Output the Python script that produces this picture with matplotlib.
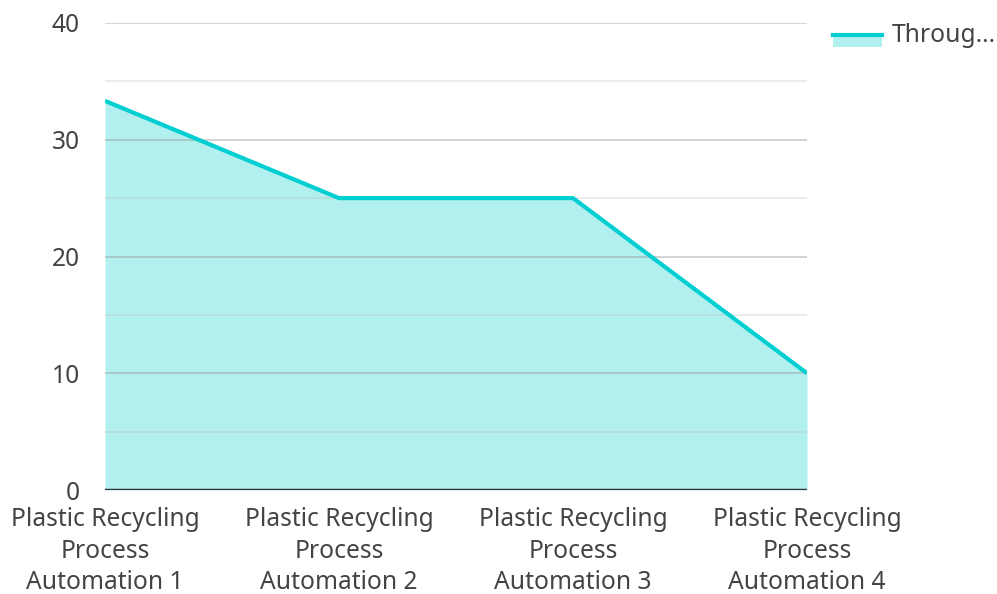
import matplotlib
matplotlib.use("Agg")
import matplotlib.pyplot as plt
from matplotlib.patches import Rectangle
from matplotlib.lines import Line2D

categories = ["Plastic Recycling\nProcess\nAutomation 1",
              "Plastic Recycling\nProcess\nAutomation 2",
              "Plastic Recycling\nProcess\nAutomation 3",
              "Plastic Recycling\nProcess\nAutomation 4"]
values = [33.33, 25, 25, 10]
series_name = "Throug..."
y_ticks = [0, 10, 20, 30, 40]
y_minor = [5, 15, 25, 35]

plt.rcParams['font.family'] = ['Noto Sans', 'DejaVu Sans']
line_color = "#00CED1"
fill_color = "#B2F0F0"
text_color = "#444444"

fig = plt.figure(figsize=(9.97, 5.94), dpi=100)
ax = fig.add_axes([105/997, 1-490/594, (807-105)/997, (490-23)/594])

x = list(range(len(categories)))
ax.fill_between(x, values, 0, color=fill_color, lw=0, zorder=1)
ax.plot(x, values, color=line_color, lw=3, zorder=4, solid_capstyle='butt')

for t in y_ticks[1:]:
    ax.axhline(t, color="#999999", alpha=0.5, lw=1.2, zorder=2)
for t in y_minor:
    ax.axhline(t, color="#bbbbbb", alpha=0.35, lw=1.2, zorder=2)
ax.axhline(0, color="#333333", lw=2.5, zorder=5)

ax.set_xlim(0, len(categories) - 1)
ax.set_ylim(0, 40)
ax.set_yticks(y_ticks)
ax.set_xticks(x)
ax.set_xticklabels(categories, linespacing=1.36)
ax.tick_params(axis='both', length=0, labelsize=17.7, colors=text_color)
ax.tick_params(axis='y', pad=18)
ax.tick_params(axis='x', pad=12)
for s in ax.spines.values():
    s.set_visible(False)
ax.set_facecolor("none")

# legend
fig.add_artist(Rectangle((833/997, 1-47/594), 49/997, 14/594, transform=fig.transFigure,
                         facecolor=fill_color, edgecolor='none'))
fig.add_artist(Line2D([833/997, 882/997], [1-35/594, 1-35/594], transform=fig.transFigure,
                      color=line_color, lw=3))
fig.text(892/997, 1-36/594, series_name, fontsize=17.7, color=text_color, va='center', ha='left')

fig.savefig("out.png", dpi=100)
